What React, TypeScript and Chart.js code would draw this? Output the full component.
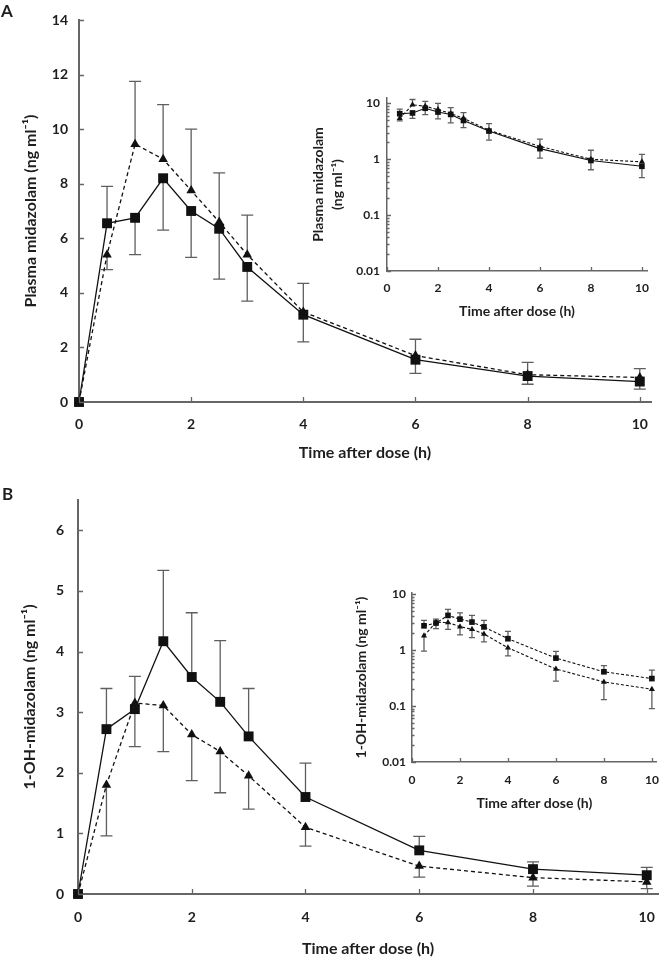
import React, { useEffect, useRef } from 'react';
import { Chart, registerables } from 'chart.js';

Chart.register(...registerables);

// ---------- data ----------
const timeH = [0, 0.5, 1, 1.5, 2, 2.5, 3, 4, 6, 8, 10];
const xTickValues = [0, 2, 4, 6, 8, 10];
const yTicksA = [0, 2, 4, 6, 8, 10, 12, 14];
const yTicksB = [0, 1, 2, 3, 4, 5, 6];
const logTickValues = [0.01, 0.1, 1, 10];

// Panel A: plasma midazolam (ng/ml)
const midazolamSquare = [0, 6.55, 6.75, 8.2, 7.0, 6.35, 4.95, 3.2, 1.55, 0.95, 0.75];
const midazolamSquareSdUp = [null, 1.35, null, null, null, null, null, null, null, null, null];
const midazolamSquareSdDown = [null, null, 1.35, 1.9, 1.7, 1.85, 1.25, 1.0, 0.5, 0.3, 0.28];
const midazolamTriangle = [0, 5.4, 9.45, 8.9, 7.75, 6.6, 5.4, 3.3, 1.7, 1.0, 0.9];
const midazolamTriangleSdUp = [null, null, 2.3, 2.0, 2.25, 1.8, 1.45, 1.05, 0.6, 0.45, 0.32];
const midazolamTriangleSdDown = [null, 0.55, null, null, null, null, null, null, null, null, null];

// Panel B: 1-OH-midazolam (ng/ml)
const ohSquare = [0, 2.72, 3.05, 4.17, 3.58, 3.17, 2.6, 1.6, 0.72, 0.41, 0.31];
const ohSquareSdUp = [null, 0.67, 0.54, 1.17, 1.06, 1.01, 0.79, 0.56, 0.23, 0.12, 0.13];
const ohSquareSdDown = [null, null, null, null, null, null, null, null, null, null, null];
const ohTriangle = [0, 1.8, 3.15, 3.11, 2.63, 2.35, 1.95, 1.1, 0.46, 0.27, 0.2];
const ohTriangleSdUp = [null, null, null, null, null, null, null, null, null, null, null];
const ohTriangleSdDown = [null, 0.84, 0.72, 0.76, 0.76, 0.68, 0.55, 0.31, 0.18, 0.14, 0.11];

// ---------- styles ----------
const FONT = 'Lato, "Open Sans", "DejaVu Sans", sans-serif';
const AXIS = '#666';
const TEXT = '#1e1e1e';
const INK = '#111';
const ERR = '#5f5f5f';

type Num = number | null;
interface Series {
  y: number[];
  up: Num[];
  down: Num[];
  style: 'rect' | 'triangle';
  radius: number;
  dashed: boolean;
}
interface Spec {
  box: { l: number; t: number; r: number; b: number; W: number; H: number };
  start: number; // first index used (insets skip t=0)
  series: Series[];
  xMax: number;
  log: boolean;
  yMin: number;
  yMax: number;
  yTicks: number[];
  xTitle: string;
  yTitle: string | string[];
  tickSize: number;
  titleSize: number;
  titleLH: number;
  xPad: number;
  yPad: number;
  cap: number;
  tickLen: number;
  axisWidth: number;
  lineWidth: number;
  dash: number[];
}

const PAGE_W = 670;
const PAGE_H = 958;

function buildConfig(s: Spec): any {
  const xs = timeH.slice(s.start);
  const { l, t, r, b, W, H } = s.box;

  const errPlugin = {
    id: 'errBars',
    beforeDatasetsDraw(chart: any) {
      const { ctx } = chart;
      const xScale = chart.scales.x;
      const yScale = chart.scales.y;
      ctx.save();
      ctx.strokeStyle = ERR;
      ctx.lineWidth = 1.3;
      s.series.forEach((se) => {
        const ys = se.y.slice(s.start);
        const ups = se.up.slice(s.start);
        const downs = se.down.slice(s.start);
        ys.forEach((v, i) => {
          const px = xScale.getPixelForValue(xs[i]);
          const py = yScale.getPixelForValue(v);
          const ends: number[] = [];
          if (ups[i] != null) ends.push(v + (ups[i] as number));
          if (downs[i] != null) ends.push(v - (downs[i] as number));
          ends.forEach((e) => {
            const pe = yScale.getPixelForValue(e);
            ctx.beginPath();
            ctx.moveTo(px, py);
            ctx.lineTo(px, pe);
            ctx.moveTo(px - s.cap, pe);
            ctx.lineTo(px + s.cap, pe);
            ctx.stroke();
          });
        });
      });
      ctx.restore();
    },
  };

  const tickPlugin = {
    id: 'inTicks',
    afterDraw(chart: any) {
      const { ctx, chartArea } = chart;
      const xScale = chart.scales.x;
      const yScale = chart.scales.y;
      ctx.save();
      ctx.strokeStyle = AXIS;
      ctx.lineWidth = 1.3;
      ctx.beginPath();
      xTickValues.forEach((v) => {
        const p = Math.round(xScale.getPixelForValue(v)) + 0.5;
        ctx.moveTo(p, chartArea.bottom);
        ctx.lineTo(p, chartArea.bottom - s.tickLen);
      });
      s.yTicks.forEach((v) => {
        const p = Math.round(yScale.getPixelForValue(v)) + 0.5;
        ctx.moveTo(chartArea.left, p);
        ctx.lineTo(chartArea.left + s.tickLen, p);
      });
      if (s.log) {
        for (let d = 0.01; d < 10; d *= 10) {
          for (let k = 2; k <= 9; k++) {
            const p = Math.round(yScale.getPixelForValue(d * k)) + 0.5;
            ctx.moveTo(chartArea.left, p);
            ctx.lineTo(chartArea.left + s.tickLen - 1.5, p);
          }
        }
      }
      ctx.stroke();
      ctx.restore();
    },
  };

  const datasets = s.series.map((se) => ({
    data: xs.map((x, i) => ({ x, y: se.y[s.start + i] })),
    borderColor: INK,
    borderWidth: s.lineWidth,
    borderDash: se.dashed ? s.dash : [],
    pointStyle: se.style,
    pointRadius: se.radius,
    pointBackgroundColor: INK,
    pointBorderColor: INK,
    pointBorderWidth: 0,
    tension: 0,
    fill: false,
    clip: false,
  }));

  const tickFont = { family: FONT, size: s.tickSize, weight: 'bold' as const };
  const titleFont = { family: FONT, size: s.titleSize, weight: 'bold' as const, lineHeight: s.titleLH };

  return {
    type: 'line',
    data: { datasets },
    options: {
      responsive: false,
      animation: false,
      events: [],
      layout: {
        padding: { left: l - W, top: t, right: PAGE_W - r, bottom: PAGE_H - b - H },
      },
      plugins: { legend: { display: false }, tooltip: { enabled: false } },
      scales: {
        x: {
          type: 'linear',
          min: 0,
          max: s.xMax,
          afterBuildTicks: (sc: any) => {
            sc.ticks = xTickValues.map((v) => ({ value: v }));
          },
          afterFit: (sc: any) => {
            sc.height = H;
          },
          grid: { display: false, drawTicks: false },
          border: { display: true, color: AXIS, width: s.axisWidth },
          ticks: {
            color: TEXT,
            font: tickFont,
            padding: s.xPad,
            maxRotation: 0,
            autoSkip: false,
            callback: (v: any) => String(v),
          },
          title: { display: true, text: s.xTitle, color: TEXT, font: titleFont, padding: 0 },
        },
        y: {
          type: s.log ? 'logarithmic' : 'linear',
          min: s.yMin,
          max: s.yMax,
          afterBuildTicks: (sc: any) => {
            sc.ticks = s.yTicks.map((v) => ({ value: v }));
          },
          afterFit: (sc: any) => {
            sc.width = W;
          },
          grid: { display: false, drawTicks: false },
          border: { display: true, color: AXIS, width: s.axisWidth },
          ticks: {
            color: TEXT,
            font: tickFont,
            padding: s.yPad,
            autoSkip: false,
            callback: (v: any) => String(v),
          },
          title: { display: true, text: s.yTitle, color: TEXT, font: titleFont, padding: 0 },
        },
      },
    },
    plugins: [errPlugin, tickPlugin],
  };
}

const seriesA = (inset: boolean): Series[] => [
  {
    y: midazolamTriangle,
    up: midazolamTriangleSdUp,
    down: midazolamTriangleSdDown,
    style: 'triangle',
    radius: inset ? 3.5 : 5.5,
    dashed: true,
  },
  {
    y: midazolamSquare,
    up: midazolamSquareSdUp,
    down: midazolamSquareSdDown,
    style: 'rect',
    radius: inset ? 4 : 7,
    dashed: false,
  },
];

const seriesB = (inset: boolean): Series[] => [
  {
    y: ohTriangle,
    up: ohTriangleSdUp,
    down: ohTriangleSdDown,
    style: 'triangle',
    radius: inset ? 3.5 : 5.5,
    dashed: true,
  },
  {
    y: ohSquare,
    up: ohSquareSdUp,
    down: ohSquareSdDown,
    style: 'rect',
    radius: inset ? 4 : 7,
    dashed: inset,
  },
];

const XTITLE = 'Time after dose (h)';

const specs: Spec[] = [
  {
    box: { l: 79, t: 20, r: 651, b: 402, W: 58, H: 60 },
    start: 0,
    series: seriesA(false),
    xMax: 10.2,
    log: false,
    yMin: 0,
    yMax: 14,
    yTicks: yTicksA,
    xTitle: XTITLE,
    yTitle: 'Plasma midazolam (ng ml\u207B\u00B9)',
    tickSize: 14,
    titleSize: 16,
    titleLH: 1.2,
    xPad: 14,
    yPad: 11,
    cap: 6,
    tickLen: 5,
    axisWidth: 2,
    lineWidth: 1.3,
    dash: [4, 3],
  },
  {
    box: { l: 387, t: 98, r: 647, b: 271, W: 78, H: 50 },
    start: 1,
    series: seriesA(true),
    xMax: 10.2,
    log: true,
    yMin: 0.01,
    yMax: 12.5,
    yTicks: logTickValues,
    xTitle: XTITLE,
    yTitle: ['Plasma midazolam', '(ng ml\u207B\u00B9)'],
    tickSize: 12,
    titleSize: 14,
    titleLH: 1.35,
    xPad: 10,
    yPad: 7,
    cap: 3,
    tickLen: 4,
    axisWidth: 1.5,
    lineWidth: 1.1,
    dash: [3, 2],
  },
  {
    box: { l: 78, t: 500, r: 670, b: 894, W: 58, H: 64 },
    start: 0,
    series: seriesB(false),
    xMax: 10.2,
    log: false,
    yMin: 0,
    yMax: 6.5,
    yTicks: yTicksB,
    xTitle: XTITLE,
    yTitle: '1-OH-midazolam (ng ml\u207B\u00B9)',
    tickSize: 14,
    titleSize: 16,
    titleLH: 1.2,
    xPad: 15,
    yPad: 14,
    cap: 6,
    tickLen: 5,
    axisWidth: 2,
    lineWidth: 1.3,
    dash: [4, 3],
  },
  {
    box: { l: 412, t: 593, r: 662, b: 762, W: 60, H: 51 },
    start: 1,
    series: seriesB(true),
    xMax: 10.2,
    log: true,
    yMin: 0.01,
    yMax: 10.5,
    yTicks: logTickValues,
    xTitle: XTITLE,
    yTitle: '1-OH-midazolam (ng ml\u207B\u00B9)',
    tickSize: 12,
    titleSize: 14,
    titleLH: 1.35,
    xPad: 11,
    yPad: 6,
    cap: 3,
    tickLen: 4,
    axisWidth: 1.5,
    lineWidth: 1.1,
    dash: [3, 2],
  },
];

function Layer({ spec }: { spec: Spec }) {
  const ref = useRef<HTMLCanvasElement | null>(null);
  useEffect(() => {
    if (!ref.current) return;
    const chart = new Chart(ref.current, buildConfig(spec));
    return () => chart.destroy();
  }, [spec]);
  return (
    <canvas
      ref={ref}
      width={PAGE_W}
      height={PAGE_H}
      style={{ position: 'absolute', left: 0, top: 0, width: PAGE_W, height: PAGE_H }}
    />
  );
}

const labelStyle: React.CSSProperties = {
  position: 'absolute',
  fontFamily: FONT,
  fontWeight: 'bold',
  fontSize: 17,
  lineHeight: '17px',
  color: TEXT,
};

export default function App() {
  return (
    <div
      style={{
        position: 'absolute',
        left: 0,
        top: 0,
        width: PAGE_W,
        height: PAGE_H,
        background: '#fff',
        overflow: 'hidden',
      }}
    >
      {specs.map((s, i) => (
        <Layer key={i} spec={s} />
      ))}
      <div style={{ ...labelStyle, left: 1, top: 2 }}>A</div>
      <div style={{ ...labelStyle, left: 2, top: 485 }}>B</div>
    </div>
  );
}
